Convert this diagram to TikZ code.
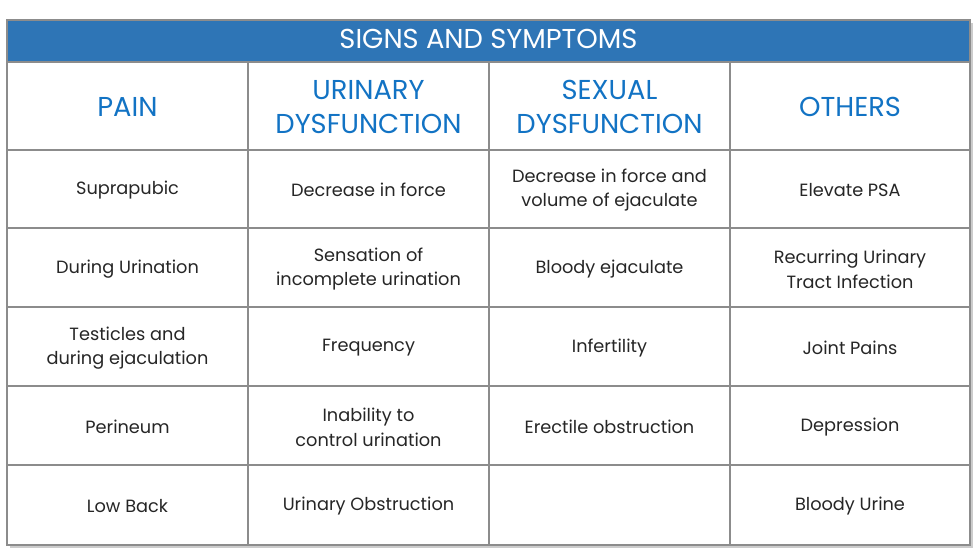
\documentclass[tikz,border=0pt]{standalone}
\usepackage{fontspec}
\setmainfont{Poppins}
\definecolor{hdr}{HTML}{2E75B6}
\definecolor{htxt}{HTML}{1273C4}
\definecolor{grid}{HTML}{8C8C8C}
\definecolor{txt}{HTML}{262626}
\begin{document}
\begin{tikzpicture}[x=0.75pt,y=-0.75pt,
  cell/.style={align=center,text=txt,font=\fontsize{13.3}{18.5}\selectfont},
  head/.style={align=center,text=htxt,font=\fontsize{20.5}{26}\selectfont},
  gridline/.style={draw=grid,line width=0.8pt}]
\useasboundingbox (0,0) rectangle (975,558);
\fill[gray!40] (10,23) rectangle (973,548);
\fill[white] (7,20) rectangle (970,545);
\fill[hdr] (7,20) rectangle (970,62);
\node[text=white,font=\fontsize{20.5}{24}\selectfont] (title) at (488.5,39) {SIGNS AND SYMPTOMS};
\draw[gridline] (7,20) rectangle (970,545);
\foreach \y in {62,150,228,307,386,465} \draw[gridline] (7,\y) -- (970,\y);
\foreach \x in {248,489,730} \draw[gridline] (\x,62) -- (\x,545);
\node[head] (h1) at (127.5,107) {PAIN};
\node[head] (h2) at (368.5,107) {URINARY\\DYSFUNCTION};
\node[head] (h3) at (609.5,107) {SEXUAL\\DYSFUNCTION};
\node[head] (h4) at (850,107) {OTHERS};
\node[cell] (a1) at (127.5,190) {Suprapubic};
\node[cell] (a2) at (127.5,269) {During Urination};
\node[cell] (a3) at (127.5,348) {Testicles and\\during ejaculation};
\node[cell] (a4) at (127.5,427) {Perineum};
\node[cell] (a5) at (127.5,506) {Low Back};
\node[cell] (b1) at (368.5,190) {Decrease in force};
\node[cell] (b2) at (368.5,269) {Sensation of\\incomplete urination};
\node[cell] (b3) at (368.5,348) {Frequency};
\node[cell] (b4) at (368.5,427) {Inability to\\control urination};
\node[cell] (b5) at (368.5,506) {Urinary Obstruction};
\node[cell] (c1) at (609.5,190) {Decrease in force and\\volume of ejaculate};
\node[cell] (c2) at (609.5,269) {Bloody ejaculate};
\node[cell] (c3) at (609.5,348) {Infertility};
\node[cell] (c4) at (609.5,427) {Erectile obstruction};
\node[cell] (d1) at (850,190) {Elevate PSA};
\node[cell] (d2) at (850,269) {Recurring Urinary\\Tract Infection};
\node[cell] (d3) at (850,348) {Joint Pains};
\node[cell] (d4) at (850,427) {Depression};
\node[cell] (d5) at (850,506) {Bloody Urine};
\end{tikzpicture}
\end{document}
